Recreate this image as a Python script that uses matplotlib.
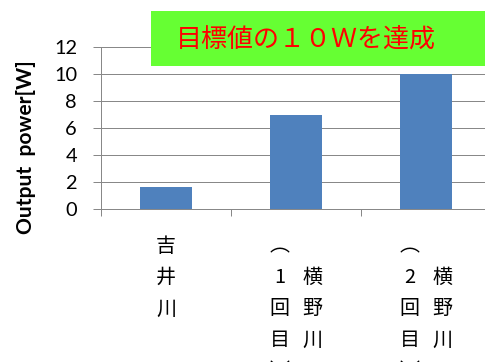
import matplotlib
matplotlib.use("Agg")
import matplotlib.pyplot as plt
from matplotlib.patches import Rectangle

# bar data
categories = ["吉井川", "横野川（1回目）", "横野川（2回目）"]
values = [1.6, 7.0, 10.0]
# vertical label columns, right to left as written
label_columns = [["吉井川"], ["横野川", "︵1回目︶"], ["横野川", "︵2回目︶"]]
yticks = [0, 2, 4, 6, 8, 10, 12]
ylabel = "Output  power[W]"
banner = "目標値の１０Ｗを達成"

W, H = 485, 362
DPI = 72
cjk = ["Noto Sans CJK JP", "DejaVu Sans"]
plt.rcParams["font.family"] = ["Lato", "DejaVu Sans"]

fig = plt.figure(figsize=(W / DPI, H / DPI), dpi=DPI)
ax = fig.add_axes([101 / W, (H - 209) / H, (491 - 101) / W, (209 - 47) / H])

x = list(range(len(categories)))
ax.bar(x, values, width=0.4, color="#4F81BD", zorder=3)

ax.set_xlim(-0.5, len(categories) - 0.5)
ax.set_ylim(0, 12)
ax.set_yticks(yticks)
ax.set_yticklabels([str(t) for t in yticks], fontsize=20)
ax.set_xticks([i - 0.5 for i in range(len(categories) + 1)])
ax.set_xticklabels([])
ax.tick_params(axis="y", direction="out", length=8, width=1, color="#888888", pad=16)
ax.tick_params(axis="x", direction="out", length=7, width=1, color="#888888")
ax.grid(axis="y", color="#888888", linewidth=1, zorder=0)
for side in ["top", "right"]:
    ax.spines[side].set_visible(False)
for side in ["left", "bottom"]:
    ax.spines[side].set_color("#888888")
    ax.spines[side].set_linewidth(1)

# vertical japanese category labels
pitch = 31.5
col_gap = 33
for i, cols in enumerate(label_columns):
    n = len(cols)
    longest = max(len(c) for c in cols)
    for j, col in enumerate(cols):
        dx = (n - 1) / 2 * col_gap - j * col_gap
        off = (longest - len(col)) / 2
        for k, ch in enumerate(col):
            ax.annotate(ch, xy=(x[i], 0), xycoords=("data", "axes fraction"),
                        xytext=(dx, -(37 + (k + off) * pitch)),
                        textcoords="offset pixels", ha="center", va="center",
                        fontsize=20, family=cjk, annotation_clip=False)

fig.text(26 / W, 1 - 147 / H, ylabel, rotation=90, ha="center", va="center",
         fontsize=21, fontweight="bold")

# green banner
fig.add_artist(Rectangle((151 / W, 1 - 66 / H), (W - 151) / W, 55 / H,
                         transform=fig.transFigure, facecolor="#66FF33",
                         edgecolor="none", zorder=5))
fig.text(306 / W, 1 - 40 / H, banner, ha="center", va="center", fontsize=26,
         color="#FF0000", family=cjk, zorder=6)

fig.savefig("out.png", dpi=DPI)
